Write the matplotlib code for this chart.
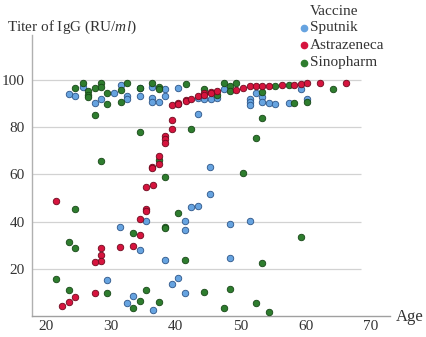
import matplotlib
matplotlib.use("Agg")
import matplotlib.pyplot as plt
from matplotlib.lines import Line2D

plt.rcParams['font.family'] = ['Liberation Serif', 'DejaVu Serif']
plt.rcParams['mathtext.fontset'] = 'custom'
plt.rcParams['mathtext.rm'] = 'Liberation Serif'
plt.rcParams['mathtext.it'] = 'Liberation Serif:italic'

# ---- data (age, titer) ----
sputnik_age = [23.5, 24.5, 25.6, 27.5, 28.5, 30.4, 31.5, 32.4, 32.4, 34.4, 34.4, 36.3, 36.3, 36.3,
               37.4, 38.4, 38.4, 40.4, 40.4, 43.4, 43.4, 44.4, 45.4, 46.4, 47.4, 51.4, 51.4, 51.4,
               52.3, 53.3, 53.3, 54.3, 55.3, 57.4, 59.3, 60.3,
               45.3, 45.3, 42.4, 43.4, 35.4, 41.4, 41.4, 31.4, 34.4, 38.4, 40.4, 39.4, 41.4, 33.4,
               32.4, 36.4, 29.4, 48.3, 51.4, 48.3]
sputnik_val = [94.2, 93.4, 97.1, 90.3, 92.0, 94.5, 98.0, 93.1, 92.0, 96.4, 93.1, 97.1, 92.4, 90.6,
               90.6, 96.2, 93.4, 96.7, 89.8, 92.4, 85.4, 92.0, 92.0, 92.2, 96.0, 92.0, 90.6, 89.2,
               94.3, 92.9, 90.6, 90.3, 89.6, 90.3, 96.0, 92.0,
               63.3, 51.9, 46.0, 46.6, 40.4, 40.1, 36.5, 37.8, 28.0, 23.8, 16.2, 13.4, 9.7, 8.7,
               5.5, 2.7, 15.4, 39.0, 40.1, 24.5]

astra_age = [39.4, 40.4, 40.4, 41.5, 41.5, 42.3, 43.4, 44.4, 44.4, 45.4, 45.4, 46.3, 49.3, 50.3,
             51.4, 52.3, 53.3, 54.3, 56.3, 58.2, 59.3, 60.3, 62.2, 66.2,
             39.4, 39.4, 38.4, 38.4, 38.4, 37.4, 37.4, 36.3, 36.3, 35.4, 36.4, 35.4, 35.4, 34.4,
             34.4, 33.4, 31.4, 21.5, 28.5, 28.5, 28.5, 27.5, 24.5, 27.5, 23.5, 22.5]
astra_val = [89.2, 90.2, 89.6, 91.6, 91.0, 92.1, 93.1, 94.3, 93.6, 94.8, 94.3, 95.2, 95.6, 96.7,
             97.3, 97.6, 97.6, 97.6, 97.8, 97.8, 98.2, 98.6, 98.5, 98.5,
             83.0, 79.4, 76.2, 74.9, 73.2, 67.8, 64.6, 63.3, 62.5, 54.5, 55.6, 45.3, 44.3, 41.1,
             34.5, 29.8, 29.4, 48.6, 28.7, 25.9, 23.5, 22.8, 8.1, 9.9, 5.9, 4.1]

sino_age = [24.5, 25.6, 26.4, 26.4, 26.5, 27.5, 27.5, 28.5, 28.5, 29.4, 29.4, 31.5, 31.5, 32.4,
            34.4, 34.4, 36.3, 37.4, 37.4, 41.5, 42.3, 44.4, 46.3, 47.4, 48.4, 48.4, 49.3, 52.3,
            53.3, 53.3, 55.3, 57.4, 58.2, 60.3, 64.2,
            28.5, 37.4, 38.4, 24.5, 40.4, 38.4, 38.4, 33.4, 23.5, 24.5, 41.4, 21.5, 23.5, 29.4,
            35.4, 44.4, 34.4, 37.4, 33.4, 47.4, 50.3, 59.3, 53.3, 48.3, 52.4, 54.3]
sino_val = [96.7, 98.8, 95.2, 93.8, 92.7, 96.7, 85.0, 98.8, 97.1, 94.5, 89.6, 95.7, 90.6, 98.5,
            96.7, 77.9, 98.8, 97.1, 96.0, 98.4, 79.1, 96.0, 93.8, 98.5, 97.6, 95.2, 98.5, 75.6,
            84.0, 94.8, 97.6, 97.8, 90.3, 90.6, 96.2,
            65.7, 66.0, 58.7, 45.3, 43.8, 37.8, 37.3, 35.1, 31.3, 28.7, 23.8, 15.8, 11.1, 9.7,
            11.1, 10.2, 6.6, 5.9, 3.5, 3.4, 60.8, 33.6, 22.4, 11.6, 5.5, 1.7]

series_names = ["Sputnik", "Astrazeneca", "Sinopharm"]
yticks = [20, 40, 60, 80, 100]
xticks = [20, 30, 40, 50, 60, 70]

c_blue, e_blue = "#66a3e0", "#2d5588"
c_red, e_red = "#d6143e", "#6e0a1e"
c_green, e_green = "#2e7d2e", "#174717"

fig = plt.figure(figsize=(4.26, 3.37), dpi=100)
ax = fig.add_axes([0.075, 0.062, 0.84, 0.834])
xmin, xmax = 17.8, 73.0
ax.set_xlim(xmin, xmax)
ax.set_ylim(0, 119)

# grid lines (ending before axis end)
ax.hlines(yticks, xmin, 68.6, colors="#d2d2d2", linewidth=0.9, zorder=0)

s = 22
ax.scatter(sputnik_age, sputnik_val, s=s, c=c_blue, edgecolors=e_blue, linewidths=0.6, zorder=3)
ax.scatter(sino_age, sino_val, s=s, c=c_green, edgecolors=e_green, linewidths=0.6, zorder=4)
ax.scatter(astra_age, astra_val, s=s, c=c_red, edgecolors=e_red, linewidths=0.6, zorder=5)

for sp in ["top", "right"]:
    ax.spines[sp].set_visible(False)
ax.spines["left"].set_color("#b0b0b0")
ax.spines["bottom"].set_color("#a0a0a0")
ax.spines["left"].set_linewidth(1.0)
ax.spines["bottom"].set_linewidth(1.0)

ax.set_xticks(xticks)
ax.set_yticks(yticks)
ax.tick_params(axis="both", length=0, labelsize=11, colors="#333333")
ax.tick_params(axis="x", pad=2.5)
ax.tick_params(axis="y", pad=5)

# titles
fig.text(0.017, 0.918, "Titer of IgG (RU/$\\mathit{ml}$)", fontsize=11, color="#333333",
         ha="left", va="center")
fig.text(0.93, 0.06, "Age", fontsize=12, color="#333333", ha="left", va="center")

# legend
fig.text(0.728, 0.965, "Vaccine", fontsize=11, color="#333333", ha="left", va="center")
leg_cols = [(c_blue, e_blue), (c_red, e_red), (c_green, e_green)]
for i, (name, (fc, ec)) in enumerate(zip(series_names, leg_cols)):
    yy = 0.918 - i * 0.052
    fig.add_artist(Line2D([0.713], [yy], marker="o", markersize=4.5, color=fc,
                          markeredgecolor=fc, linestyle="none", transform=fig.transFigure))
    fig.text(0.728, yy, name, fontsize=11, color="#333333", ha="left", va="center")

fig.savefig("out.png", dpi=100)
